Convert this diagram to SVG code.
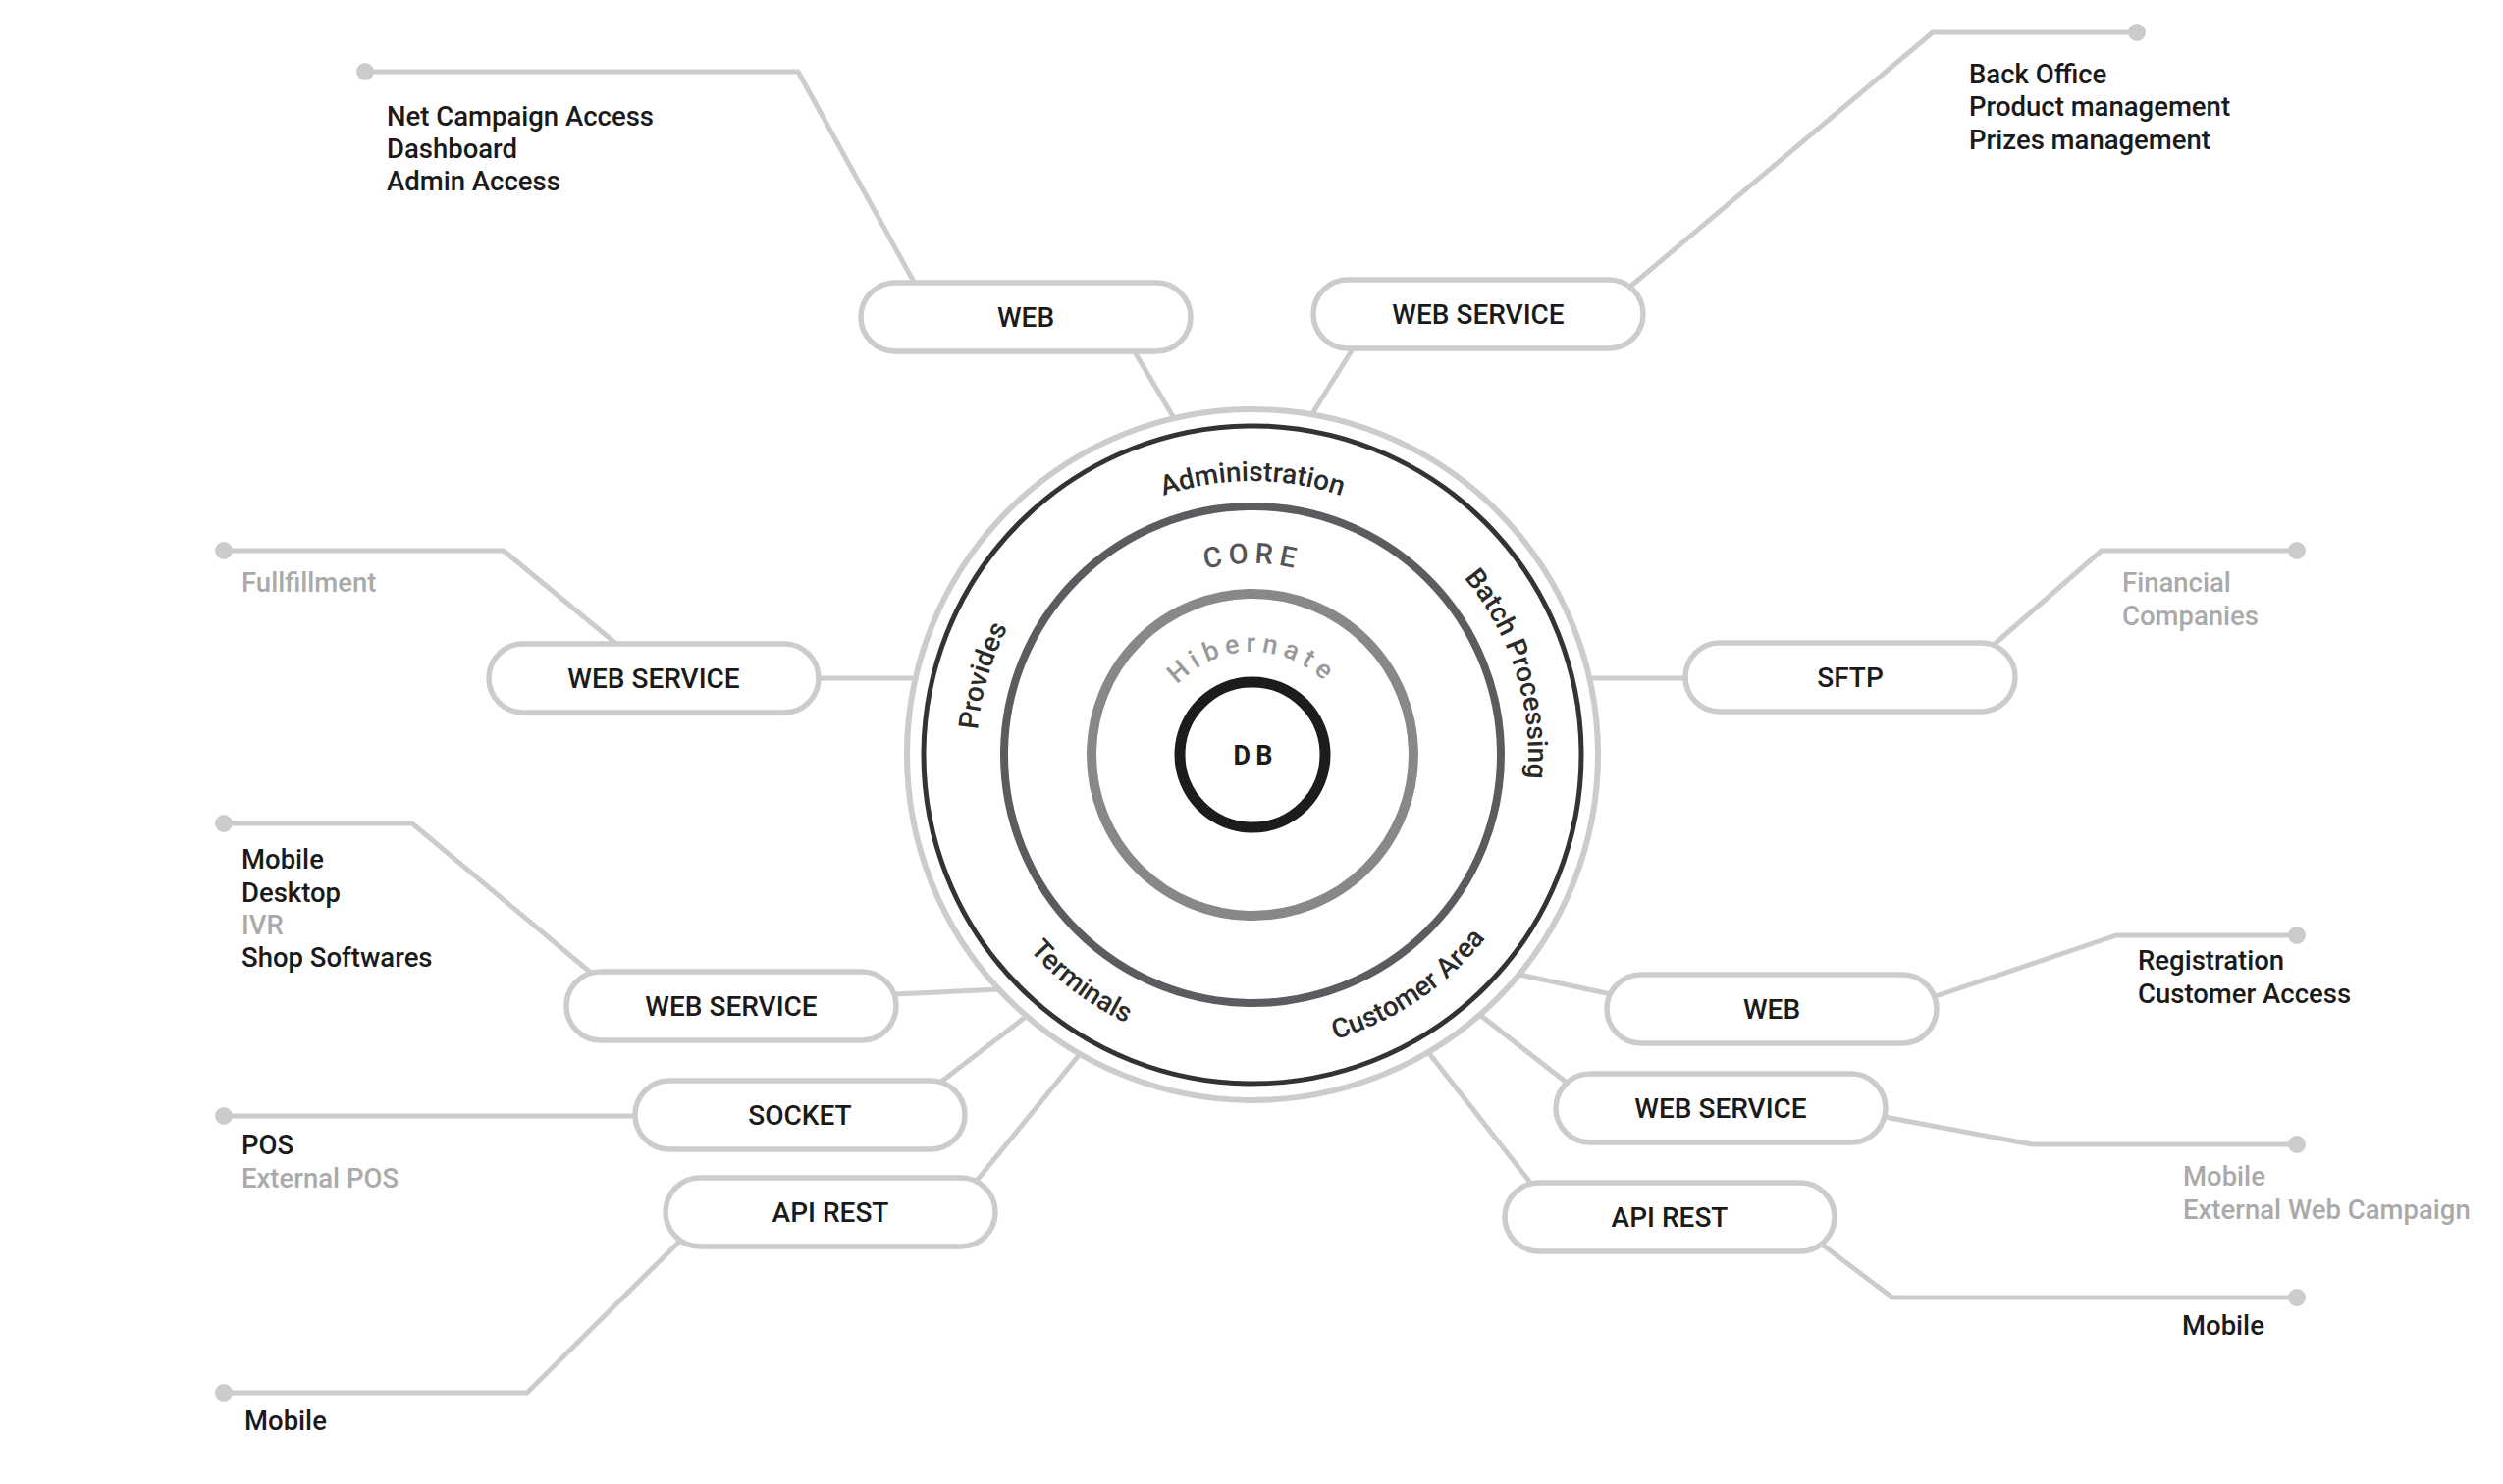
<svg xmlns="http://www.w3.org/2000/svg" width="2550" height="1512" viewBox="0 0 2550 1512">
<style>
.bg{fill:#ffffff}
.ln{fill:none;stroke:#cccccc;stroke-width:5;stroke-linejoin:round;stroke-linecap:round}
.dot{fill:#cccccc}
.pill{fill:#ffffff;stroke:#cccccc;stroke-width:5.5}
.pt{font-family:Roboto,"Liberation Sans",sans-serif;font-size:28px;font-weight:500;fill:#1a1a1a;text-anchor:middle}
.lb{font-family:Roboto,"Liberation Sans",sans-serif;font-size:27.5px;font-weight:500;fill:#1a1a1a}
.lg{fill:#aaaaaa}
.ring{font-family:Roboto,"Liberation Sans",sans-serif;font-size:28px;font-weight:500;fill:#2a2a2a}
.core{font-family:Roboto,"Liberation Sans",sans-serif;font-size:29px;font-weight:500;fill:#555558;letter-spacing:6px}
.hib{font-family:Roboto,"Liberation Sans",sans-serif;font-size:27px;font-weight:500;fill:#999999;letter-spacing:6px}
.db{font-family:Roboto,"Liberation Sans",sans-serif;font-size:27px;font-weight:700;fill:#1a1a1a;letter-spacing:5px;text-anchor:middle}
</style>
<defs>
<path id="pAdm" d="M1034.4,629.5 A279,279 0 0 1 1517.6,629.5"/>
<path id="pBat" d="M1336.8,494.7 A281,281 0 0 1 1483.2,958.8"/>
<path id="pPro" d="M1072.8,963.1 A281,281 0 0 1 1209.5,496.0"/>
<path id="pTer" d="M976.2,732.2 A302,302 0 0 0 1394.0,1047.0"/>
<path id="pCus" d="M1143.6,1040.4 A302,302 0 0 0 1577.3,747.9"/>
<path id="pCore" d="M1107.1,671.5 A195,195 0 0 1 1444.9,671.5"/>
<path id="pHib" d="M1186,717 A103,103 0 0 1 1366,717"/>
</defs>
<rect class="bg" x="0" y="0" width="2550" height="1512"/>
<g id="connectors">
<polyline class="ln" points="372,73 813,73 932,289"/>
<line class="ln" x1="1155" y1="357" x2="1196" y2="426"/>
<polyline class="ln" points="2177,33 1969,33 1662,291"/>
<line class="ln" x1="1379" y1="354" x2="1336" y2="423"/>
<polyline class="ln" points="228,561 513,561 628,656"/>
<line class="ln" x1="834" y1="691" x2="933" y2="691"/>
<polyline class="ln" points="2340,561 2141,561 2031,657"/>
<line class="ln" x1="1619" y1="691" x2="1717" y2="691"/>
<polyline class="ln" points="228,839 420,839 603,992"/>
<line class="ln" x1="912" y1="1013" x2="1018" y2="1008"/>
<line class="ln" x1="228" y1="1137" x2="647" y2="1137"/>
<line class="ln" x1="959" y1="1102" x2="1045" y2="1036"/>
<line class="ln" x1="995" y1="1203" x2="1100" y2="1074"/>
<polyline class="ln" points="694,1263 537,1419 228,1419"/>
<line class="ln" x1="1548" y1="993" x2="1641" y2="1013"/>
<polyline class="ln" points="1972,1015 2156,953 2340,953"/>
<line class="ln" x1="1509" y1="1035" x2="1596" y2="1103"/>
<polyline class="ln" points="1920,1138 2070,1166 2340,1166"/>
<line class="ln" x1="1455" y1="1072" x2="1560" y2="1206"/>
<polyline class="ln" points="1855,1267 1928,1322 2340,1322"/>
<circle class="dot" cx="372" cy="73" r="9"/>
<circle class="dot" cx="2177" cy="33" r="9"/>
<circle class="dot" cx="228" cy="561" r="9"/>
<circle class="dot" cx="2340" cy="561" r="9"/>
<circle class="dot" cx="228" cy="839" r="9"/>
<circle class="dot" cx="228" cy="1137" r="9"/>
<circle class="dot" cx="228" cy="1419" r="9"/>
<circle class="dot" cx="2340" cy="953" r="9"/>
<circle class="dot" cx="2340" cy="1166" r="9"/>
<circle class="dot" cx="2340" cy="1322" r="9"/>
</g>
<g id="core">
<circle cx="1276" cy="769" r="352" fill="#ffffff" stroke="#cccccc" stroke-width="6"/>
<circle cx="1276" cy="769" r="335" fill="none" stroke="#333333" stroke-width="5"/>
<circle cx="1276" cy="769" r="253" fill="none" stroke="#5c5c60" stroke-width="8"/>
<circle cx="1276" cy="769" r="164" fill="none" stroke="#888888" stroke-width="10"/>
<circle cx="1276" cy="769" r="74" fill="none" stroke="#1c1c1c" stroke-width="11"/>
<text class="ring" text-anchor="middle"><textPath href="#pAdm" startOffset="50%">Administration</textPath></text>
<text class="ring" text-anchor="middle"><textPath href="#pBat" startOffset="50%">Batch Processing</textPath></text>
<text class="ring" text-anchor="middle"><textPath href="#pPro" startOffset="50%">Provides</textPath></text>
<text class="ring" text-anchor="middle"><textPath href="#pTer" startOffset="50%">Terminals</textPath></text>
<text class="ring" text-anchor="middle"><textPath href="#pCus" startOffset="50%">Customer Area</textPath></text>
<text class="core" text-anchor="middle"><textPath href="#pCore" startOffset="50%">CORE</textPath></text>
<text class="hib" text-anchor="middle"><textPath href="#pHib" startOffset="50%">Hibernate</textPath></text>
<text class="db" x="1279" y="779">DB</text>
</g>
<g id="n-web-tl"><rect class="pill" x="877" y="288" width="336" height="70" rx="35"/><text class="pt" x="1045" y="333">WEB</text></g>
<g id="n-ws-top"><rect class="pill" x="1338" y="285" width="336" height="70" rx="35"/><text class="pt" x="1506" y="330">WEB SERVICE</text></g>
<g id="n-ws-left"><rect class="pill" x="498" y="656" width="336" height="70" rx="35"/><text class="pt" x="666" y="701">WEB SERVICE</text></g>
<g id="n-sftp"><rect class="pill" x="1717" y="655" width="336" height="70" rx="35"/><text class="pt" x="1885" y="700">SFTP</text></g>
<g id="n-ws-ll"><rect class="pill" x="577" y="990" width="336" height="70" rx="35"/><text class="pt" x="745" y="1035">WEB SERVICE</text></g>
<g id="n-socket"><rect class="pill" x="647" y="1101" width="336" height="70" rx="35"/><text class="pt" x="815" y="1146">SOCKET</text></g>
<g id="n-api-l"><rect class="pill" x="678" y="1200" width="336" height="70" rx="35"/><text class="pt" x="846" y="1245">API REST</text></g>
<g id="n-web-r"><rect class="pill" x="1637" y="993" width="336" height="70" rx="35"/><text class="pt" x="1805" y="1038">WEB</text></g>
<g id="n-ws-r"><rect class="pill" x="1585" y="1094" width="336" height="70" rx="35"/><text class="pt" x="1753" y="1139">WEB SERVICE</text></g>
<g id="n-api-r"><rect class="pill" x="1533" y="1205" width="336" height="70" rx="35"/><text class="pt" x="1701" y="1250">API REST</text></g>
<g id="labels">
<text class="lb" x="394" y="128">Net Campaign Access</text>
<text class="lb" x="394" y="161">Dashboard</text>
<text class="lb" x="394" y="194">Admin Access</text>
<text class="lb" x="2006" y="85">Back Office</text>
<text class="lb" x="2006" y="118">Product management</text>
<text class="lb" x="2006" y="152">Prizes management</text>
<text class="lb lg" x="246" y="603">Fullfillment</text>
<text class="lb" x="246" y="885">Mobile</text>
<text class="lb" x="246" y="919">Desktop</text>
<text class="lb lg" x="246" y="952">IVR</text>
<text class="lb" x="246" y="985">Shop Softwares</text>
<text class="lb" x="246" y="1176">POS</text>
<text class="lb lg" x="246" y="1210">External POS</text>
<text class="lb" x="249" y="1457">Mobile</text>
<text class="lb lg" x="2162" y="603">Financial</text>
<text class="lb lg" x="2162" y="637">Companies</text>
<text class="lb" x="2178" y="988">Registration</text>
<text class="lb" x="2178" y="1022">Customer Access</text>
<text class="lb lg" x="2224" y="1208">Mobile</text>
<text class="lb lg" x="2224" y="1242">External Web Campaign</text>
<text class="lb" x="2223" y="1360">Mobile</text>
</g>
</svg>
